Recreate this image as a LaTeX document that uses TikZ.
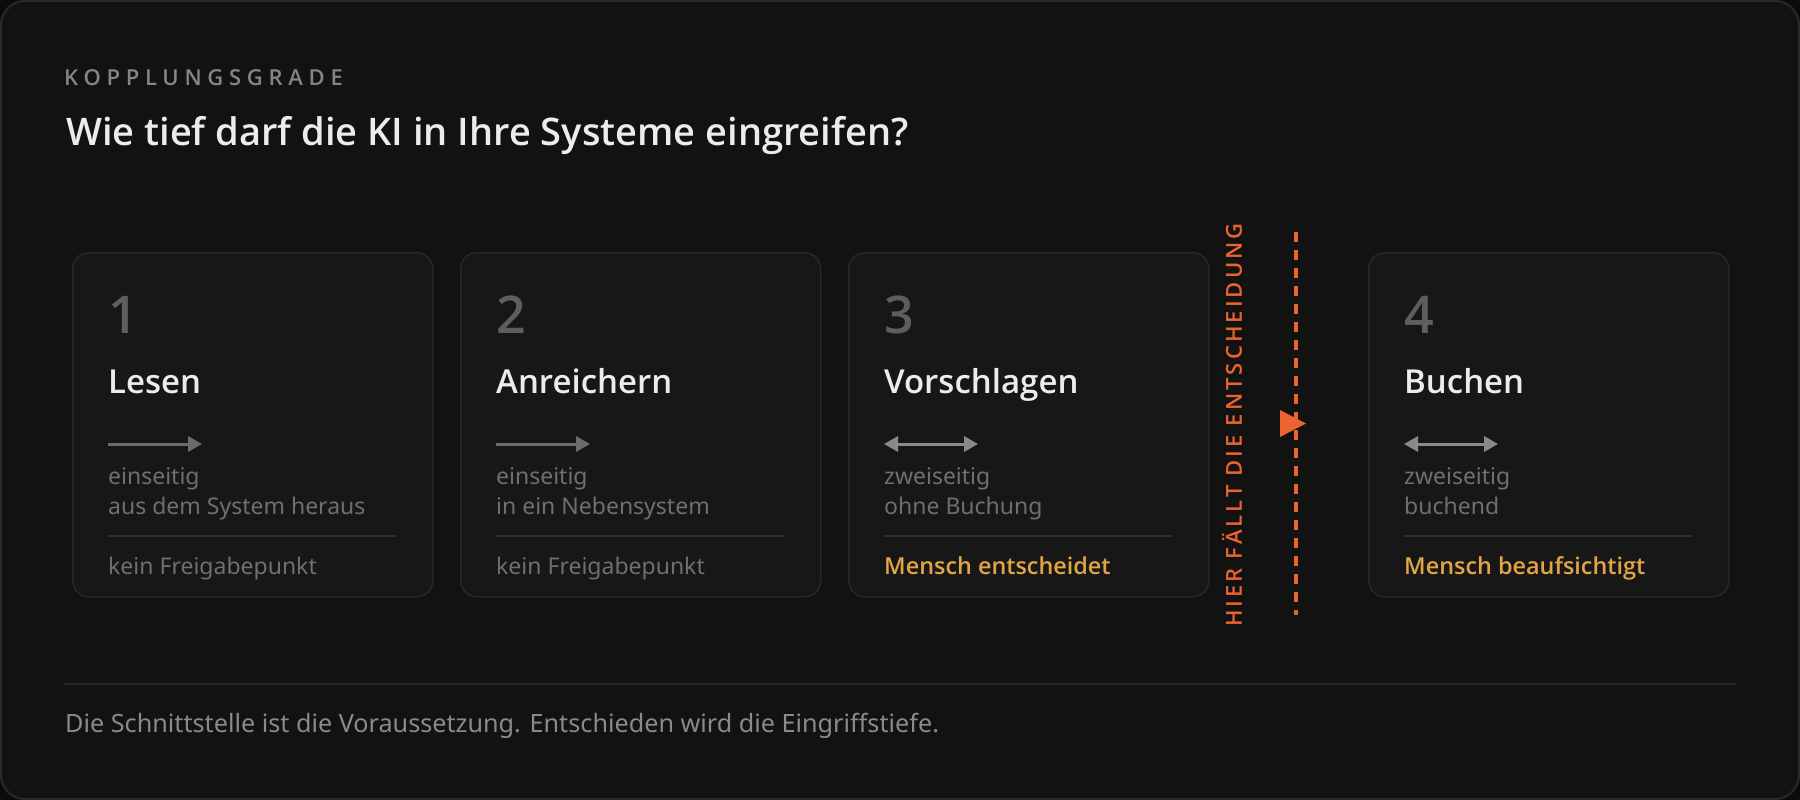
\documentclass[tikz,border=0pt]{standalone}
\usepackage{fontspec}
\setmainfont{Noto Sans}
\IfFontExistsTF{Open Sans SemiBold}{%
  \newfontfamily\semifont{Open Sans SemiBold}%
  \newfontfamily\kickerfont[LetterSpace=26]{Open Sans SemiBold}%
  \newfontfamily\verticalfont[LetterSpace=14]{Open Sans SemiBold}}{%
  \IfFontExistsTF{Open Sans Semibold}{%
    \newfontfamily\semifont{Open Sans Semibold}%
    \newfontfamily\kickerfont[LetterSpace=26]{Open Sans Semibold}%
    \newfontfamily\verticalfont[LetterSpace=14]{Open Sans Semibold}}{%
    \newfontfamily\semifont{DejaVu Sans Bold}%
    \newfontfamily\kickerfont[LetterSpace=26]{DejaVu Sans Bold}%
    \newfontfamily\verticalfont[LetterSpace=14]{DejaVu Sans Bold}}}
\usetikzlibrary{arrows.meta}

\definecolor{pagebg}{HTML}{0B0B0B}
\definecolor{framefill}{HTML}{121212}
\definecolor{frameline}{HTML}{2A2A2A}
\definecolor{cardfill}{HTML}{171717}
\definecolor{cardline}{HTML}{272727}
\definecolor{kickergray}{HTML}{858585}
\definecolor{titlewhite}{HTML}{ECECEC}
\definecolor{numgray}{HTML}{5E5E5E}
\definecolor{bodygray}{HTML}{6F6F6F}
\definecolor{arrowgray}{HTML}{6C6C6C}
\definecolor{arrowlight}{HTML}{8A8A8A}
\definecolor{sepline}{HTML}{2C2C2C}
\definecolor{amber}{HTML}{E2A544}
\definecolor{cutorange}{HTML}{EA6330}
\definecolor{footgray}{HTML}{8A8A8A}

\tikzset{>={Triangle[length=14pt,width=15pt]},
  card/.style={draw=cardline, line width=1.5pt, fill=cardfill, rounded corners=16pt,
    minimum width=360pt, minimum height=344pt, anchor=north west, inner sep=0pt},
  num/.style={anchor=base west, inner sep=0pt, text=numgray, font=\semifont\fontsize{52}{60}\selectfont},
  headline/.style={anchor=base west, inner sep=0pt, text=titlewhite, font=\semifont\fontsize{33}{40}\selectfont},
  body/.style={anchor=base west, inner sep=0pt, text=bodygray, font=\fontsize{23}{30}\selectfont},
  gate/.style={anchor=base west, inner sep=0pt, text=amber, font=\semifont\fontsize{23.4}{30}\selectfont},
  oneway/.style={draw=arrowgray, line width=3pt, ->},
  twoway/.style={draw=arrowlight, line width=3pt, <->},
  cardrule/.style={draw=sepline, line width=2pt}
}

\begin{document}
\begin{tikzpicture}[x=1pt, y=-1pt]
    \fill[pagebg] (0,0) rectangle (1800,800);
    \useasboundingbox (0,0) rectangle (1800,800);
    \draw[draw=frameline, fill=framefill, line width=2pt, rounded corners=24pt] (1,1) rectangle (1799,799);

    \node[anchor=base west, inner sep=0pt, text=kickergray, font=\kickerfont\fontsize{22}{25}\selectfont] (kicker) at (64,85) {KOPPLUNGSGRADE};
    \node[anchor=base west, inner sep=0pt, text=titlewhite, font=\semifont\fontsize{38}{50}\selectfont] (headtitle) at (66,145) {Wie tief darf die KI in Ihre Systeme eingreifen?};

    % stage 1
    \node[card] (card1) at (72,252) {};
    \node[num] (n1) at (108,333) {1};
    \node[headline] (t1) at (108,393) {Lesen};
    \coordinate (a1s) at (108,444); \coordinate (a1e) at (202,444);
    \draw[oneway] (a1s) -- (a1e);
    \node[body] (l1a) at (108,484) {einseitig};
    \node[body] (l1b) at (108,514) {aus dem System heraus};
    \coordinate (r1s) at (108,536); \coordinate (r1e) at (396,536);
    \draw[cardrule] (r1s) -- (r1e);
    \node[body] (g1) at (108,574) {kein Freigabepunkt};

    % stage 2
    \node[card] (card2) at (460,252) {};
    \node[num] (n2) at (496,333) {2};
    \node[headline] (t2) at (496,393) {Anreichern};
    \coordinate (a2s) at (496,444); \coordinate (a2e) at (590,444);
    \draw[oneway] (a2s) -- (a2e);
    \node[body] (l2a) at (496,484) {einseitig};
    \node[body] (l2b) at (496,514) {in ein Nebensystem};
    \coordinate (r2s) at (496,536); \coordinate (r2e) at (784,536);
    \draw[cardrule] (r2s) -- (r2e);
    \node[body] (g2) at (496,574) {kein Freigabepunkt};

    % stage 3
    \node[card] (card3) at (848,252) {};
    \node[num] (n3) at (884,333) {3};
    \node[headline] (t3) at (884,393) {Vorschlagen};
    \coordinate (a3s) at (884,444); \coordinate (a3e) at (978,444);
    \draw[twoway] (a3s) -- (a3e);
    \node[body] (l3a) at (884,484) {zweiseitig};
    \node[body] (l3b) at (884,514) {ohne Buchung};
    \coordinate (r3s) at (884,536); \coordinate (r3e) at (1172,536);
    \draw[cardrule] (r3s) -- (r3e);
    \node[gate] (g3) at (884,574) {Mensch entscheidet};

    % decision line
    \node[rotate=90, inner sep=0pt, text=cutorange, font=\verticalfont\fontsize{22}{26}\selectfont] (decision) at (1232,425) {HIER FÄLLT DIE ENTSCHEIDUNG};
    \coordinate (cuttop) at (1296,232); \coordinate (cutbottom) at (1296,615);
    \draw[cutorange, line width=3.5pt, dash pattern=on 10pt off 8pt] (cuttop) -- (cutbottom);
    \fill[cutorange] (1280,410) -- (1306,423.5) -- (1280,437) -- cycle;

    % stage 4
    \node[card] (card4) at (1368,252) {};
    \node[num] (n4) at (1404,333) {4};
    \node[headline] (t4) at (1404,393) {Buchen};
    \coordinate (a4s) at (1404,444); \coordinate (a4e) at (1498,444);
    \draw[twoway] (a4s) -- (a4e);
    \node[body] (l4a) at (1404,484) {zweiseitig};
    \node[body] (l4b) at (1404,514) {buchend};
    \coordinate (r4s) at (1404,536); \coordinate (r4e) at (1692,536);
    \draw[cardrule] (r4s) -- (r4e);
    \node[gate] (g4) at (1404,574) {Mensch beaufsichtigt};

    \coordinate (footl) at (64,684); \coordinate (footr) at (1736,684);
    \draw[draw=cardline, line width=2pt] (footl) -- (footr);
    \node[anchor=base west, inner sep=0pt, text=footgray, font=\fontsize{25.2}{30}\selectfont] (footnote) at (65,732) {Die Schnittstelle ist die Voraussetzung. Entschieden wird die Eingriffstiefe.};
\end{tikzpicture}
\end{document}
